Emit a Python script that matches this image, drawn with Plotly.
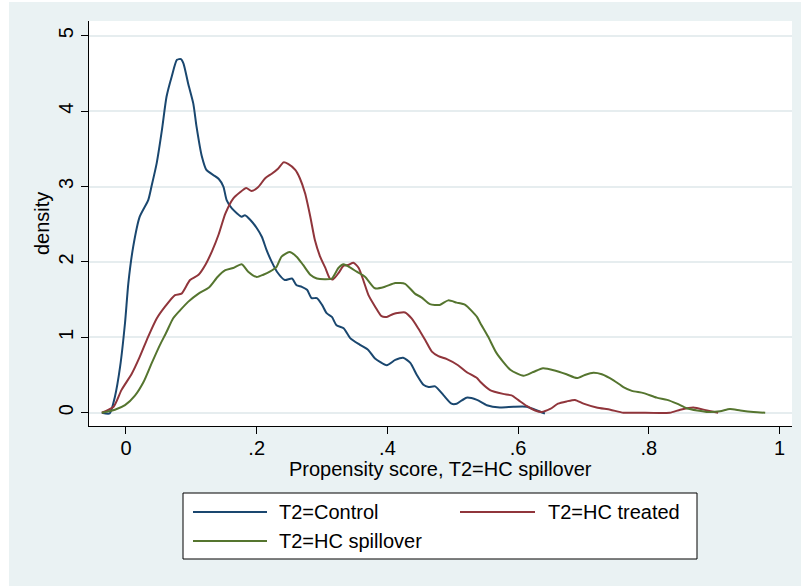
import plotly.graph_objects as go

# ---------------- data ----------------
control_x = [-0.037, -0.025, -0.017, -0.009, -0.0015, 0.0036, 0.011, 0.021, 0.034, 0.039,
             0.047, 0.055, 0.062, 0.070, 0.078, 0.084, 0.088, 0.095, 0.103, 0.108,
             0.116, 0.123, 0.134, 0.142, 0.149, 0.154, 0.162, 0.177, 0.182, 0.190,
             0.200, 0.208, 0.215, 0.223, 0.231, 0.243, 0.254, 0.261, 0.269, 0.277,
             0.284, 0.292, 0.300, 0.307, 0.315, 0.322, 0.333, 0.343, 0.358, 0.371,
             0.381, 0.399, 0.412, 0.424, 0.435, 0.445, 0.455, 0.463, 0.473, 0.486,
             0.498, 0.506, 0.521, 0.537, 0.552, 0.572, 0.593, 0.613, 0.626, 0.641]
control_y = [0.00, -0.01, 0.21, 0.61, 1.19, 1.72, 2.20, 2.60, 2.82, 3.00,
             3.31, 3.75, 4.19, 4.46, 4.68, 4.69, 4.63, 4.37, 4.10, 3.79,
             3.40, 3.22, 3.15, 3.10, 3.00, 2.82, 2.71, 2.60, 2.62, 2.56,
             2.45, 2.33, 2.16, 2.00, 1.87, 1.76, 1.78, 1.69, 1.67, 1.63,
             1.52, 1.52, 1.43, 1.32, 1.27, 1.16, 1.12, 0.99, 0.90, 0.83,
             0.72, 0.63, 0.70, 0.73, 0.66, 0.50, 0.37, 0.34, 0.35, 0.23,
             0.12, 0.12, 0.20, 0.17, 0.10, 0.07, 0.08, 0.08, 0.04, -0.01]

treated_x = [-0.037, -0.019, -0.007, 0.009, 0.021, 0.034, 0.047, 0.060, 0.075, 0.085,
             0.098, 0.111, 0.122, 0.132, 0.142, 0.152, 0.164, 0.174, 0.184, 0.192,
             0.202, 0.213, 0.223, 0.233, 0.241, 0.248, 0.259, 0.266, 0.274, 0.282,
             0.289, 0.297, 0.305, 0.312, 0.317, 0.325, 0.333, 0.340, 0.348, 0.356,
             0.363, 0.371, 0.381, 0.391, 0.399, 0.409, 0.427, 0.437, 0.447, 0.458,
             0.468, 0.478, 0.491, 0.508, 0.521, 0.537, 0.542, 0.557, 0.577, 0.590,
             0.600, 0.613, 0.626, 0.636, 0.649, 0.661, 0.674, 0.687, 0.700, 0.720,
             0.741, 0.761, 0.784, 0.832, 0.848, 0.868, 0.889, 0.906]
treated_y = [0.00, 0.08, 0.30, 0.52, 0.74, 1.01, 1.25, 1.41, 1.56, 1.58,
             1.76, 1.83, 1.97, 2.15, 2.37, 2.64, 2.84, 2.92, 2.98, 2.94,
             2.99, 3.11, 3.17, 3.24, 3.32, 3.30, 3.22, 3.11, 2.91, 2.60,
             2.29, 2.07, 1.92, 1.78, 1.77, 1.85, 1.95, 1.96, 1.99, 1.92,
             1.76, 1.56, 1.41, 1.28, 1.27, 1.31, 1.33, 1.25, 1.12, 0.96,
             0.81, 0.75, 0.71, 0.63, 0.54, 0.46, 0.41, 0.30, 0.25, 0.23,
             0.17, 0.09, 0.03, 0.01, 0.05, 0.12, 0.15, 0.17, 0.12, 0.07,
             0.04, 0.00, 0.00, 0.00, 0.04, 0.07, 0.03, 0.00]

spill_x = [-0.037, -0.017, -0.0015, 0.014, 0.027, 0.039, 0.052, 0.062, 0.072, 0.083,
           0.095, 0.111, 0.127, 0.140, 0.152, 0.164, 0.177, 0.187, 0.200, 0.210,
           0.220, 0.230, 0.238, 0.250, 0.261, 0.271, 0.282, 0.292, 0.305, 0.315,
           0.325, 0.333, 0.340, 0.353, 0.366, 0.381, 0.396, 0.412, 0.427, 0.442,
           0.452, 0.465, 0.480, 0.493, 0.506, 0.519, 0.537, 0.542, 0.554, 0.567,
           0.588, 0.608, 0.623, 0.638, 0.656, 0.674, 0.690, 0.702, 0.715, 0.728,
           0.746, 0.761, 0.774, 0.792, 0.812, 0.828, 0.843, 0.858, 0.874, 0.891,
           0.909, 0.924, 0.940, 0.960, 0.978]
spill_y = [0.00, 0.04, 0.10, 0.23, 0.41, 0.65, 0.90, 1.07, 1.25, 1.36,
           1.47, 1.58, 1.66, 1.80, 1.89, 1.92, 1.97, 1.87, 1.80, 1.83,
           1.87, 1.93, 2.07, 2.13, 2.07, 1.96, 1.83, 1.78, 1.77, 1.78,
           1.92, 1.97, 1.94, 1.87, 1.80, 1.65, 1.67, 1.72, 1.71, 1.58,
           1.53, 1.44, 1.43, 1.49, 1.46, 1.43, 1.27, 1.19, 1.01, 0.79,
           0.57, 0.49, 0.54, 0.59, 0.56, 0.51, 0.46, 0.50, 0.53, 0.51,
           0.43, 0.34, 0.29, 0.26, 0.20, 0.17, 0.12, 0.06, 0.03, 0.01,
           0.02, 0.05, 0.03, 0.01, 0.00]

series_names = ["T2=Control", "T2=HC treated", "T2=HC spillover"]
series_colors = ["#1A476F", "#90353B", "#55752F"]

x_tick_vals = [0, 0.2, 0.4, 0.6, 0.8, 1]
x_tick_text = ["0", ".2", ".4", ".6", ".8", "1"]
y_tick_vals = [0, 1, 2, 3, 4, 5]
y_tick_text = ["0", "1", "2", "3", "4", "5"]

x_title = "Propensity score, T2=HC spillover"
y_title = "density"

# ---------------- layout geometry ----------------
W, H = 801, 588
L, R, T, B = 89, 9, 21, 162
PW, PH = W - L - R, H - T - B
BG = "#EAF2F3"
FONT = "Liberation Sans, Arial, Helvetica, sans-serif"


def px2x(px):
    return (px - L) / PW


def py2y(py):
    return (H - B - py) / PH


fig = go.Figure()
for xs, ys, name, col in zip([control_x, treated_x, spill_x],
                             [control_y, treated_y, spill_y],
                             series_names, series_colors):
    fig.add_trace(go.Scatter(x=xs, y=ys, mode="lines", name=name,
                             line=dict(color=col, width=2, shape="spline", smoothing=0.6),
                             showlegend=False))

shapes = [
    # white outer strips (image margin)
    dict(type="rect", xref="paper", yref="paper", x0=px2x(0), x1=px2x(9), y0=py2y(H), y1=py2y(0),
         fillcolor="white", line=dict(width=0), layer="below"),
    dict(type="rect", xref="paper", yref="paper", x0=px2x(0), x1=px2x(W), y0=py2y(2), y1=py2y(0),
         fillcolor="white", line=dict(width=0), layer="below"),
    dict(type="rect", xref="paper", yref="paper", x0=px2x(0), x1=px2x(W), y0=py2y(H), y1=py2y(586),
         fillcolor="white", line=dict(width=0), layer="below"),
    # legend box
    dict(type="rect", xref="paper", yref="paper", x0=px2x(183), x1=px2x(697),
         y0=py2y(559), y1=py2y(493), fillcolor="white", line=dict(color="black", width=1)),
]
annotations = [
    dict(xref="paper", yref="paper", x=px2x(440.5), y=py2y(469), text=x_title,
         showarrow=False, xanchor="center", yanchor="middle",
         font=dict(family=FONT, size=20, color="black")),
    dict(xref="paper", yref="paper", x=px2x(42), y=py2y(224), text=y_title, textangle=-90,
         showarrow=False, xanchor="center", yanchor="middle",
         font=dict(family=FONT, size=20, color="black")),
]
legend_pos = [(193, 267, 277, 512), (460, 535, 546, 512), (193, 267, 277, 541)]
for (lx0, lx1, tx, ty), name, col in zip(legend_pos, series_names, series_colors):
    shapes.append(dict(type="line", xref="paper", yref="paper", x0=px2x(lx0), x1=px2x(lx1),
                       y0=py2y(ty), y1=py2y(ty), line=dict(color=col, width=2)))
    annotations.append(dict(xref="paper", yref="paper", x=px2x(tx), y=py2y(ty), text=name,
                            showarrow=False, xanchor="left", yanchor="middle",
                            font=dict(family=FONT, size=20, color="black")))

fig.update_layout(
    width=W, height=H,
    margin=dict(l=L, r=R, t=T, b=B, pad=0),
    paper_bgcolor=BG, plot_bgcolor="white",
    font=dict(family=FONT, size=20, color="black"),
    shapes=shapes, annotations=annotations,
    xaxis=dict(range=[-0.0566, 1.019], tickvals=x_tick_vals, ticktext=x_tick_text,
               ticks="outside", ticklen=7, tickwidth=1, tickcolor="black",
               ticklabelstandoff=-3,
               showline=True, linecolor="black", linewidth=1, showgrid=False, zeroline=False,
               tickfont=dict(family=FONT, size=20, color="black")),
    yaxis=dict(range=[-0.176, 5.195], tickvals=y_tick_vals, ticktext=y_tick_text,
               ticks="outside", ticklen=7, tickwidth=1, tickcolor="black", tickangle=-90,
               showline=True, linecolor="black", linewidth=1,
               showgrid=True, gridcolor="#E6EDEF", gridwidth=2, zeroline=False,
               tickfont=dict(family=FONT, size=20, color="black")),
)

fig.write_html("out.html")
